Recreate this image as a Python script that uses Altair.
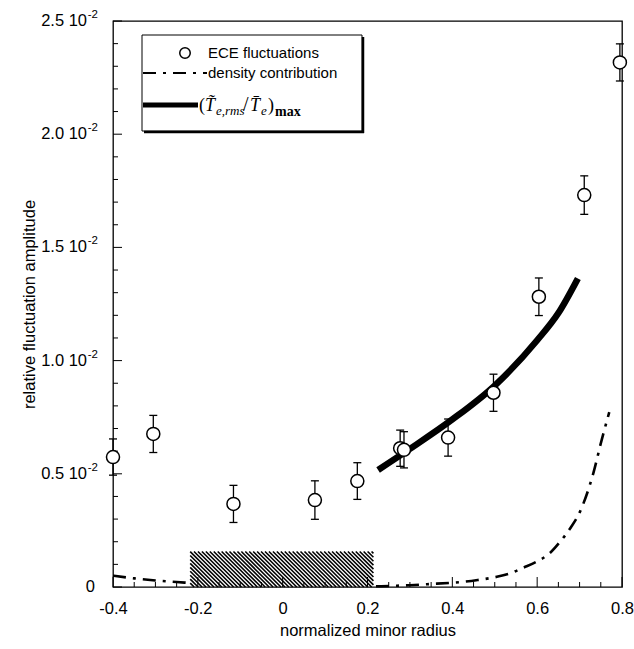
import altair as alt
import pandas as pd
import numpy as np

# ---------------- data ----------------
# ECE fluctuation measurements (relative amplitude) with error bars
ece_r = [-0.400, -0.305, -0.116, 0.076, 0.176, 0.277, 0.286, 0.390, 0.497, 0.604, 0.711, 0.795]
ece_amp = [0.00574, 0.00676, 0.00367, 0.00384, 0.00468, 0.00613, 0.00606, 0.00660, 0.00858, 0.01282, 0.01731, 0.02317]
ece_err = [0.00080, 0.00082, 0.00082, 0.00085, 0.00081, 0.00080, 0.00080, 0.00082, 0.00082, 0.00083, 0.00085, 0.00082]

# density contribution (dash-dot curve), two branches
dens_left_r = [-0.40, -0.35, -0.30, -0.25, -0.22]
dens_left_amp = [0.00050, 0.00038, 0.00029, 0.00022, 0.00018]
dens_right_r = [0.22, 0.26, 0.30, 0.347, 0.40, 0.426, 0.46, 0.505, 0.54, 0.567,
                0.599, 0.63, 0.654, 0.68, 0.701, 0.732, 0.752, 0.770]
dens_right_amp = [0.00003, 0.00005, 0.00008, 0.00013, 0.00019, 0.00023, 0.00031, 0.00045, 0.00063, 0.00085,
                  0.00112, 0.00150, 0.00200, 0.00265, 0.00333, 0.00500, 0.00649, 0.00772]

# (T_e,rms / T_e)_max curve
max_r = [0.225, 0.30, 0.40, 0.50, 0.60, 0.65, 0.696]
max_amp = [0.00517, 0.00610, 0.00740, 0.00890, 0.01090, 0.01210, 0.01363]

# hatched (excluded) region
hatch_r = [-0.218, 0.214]
hatch_top = 0.00157

x_ticks = [-0.4, -0.2, 0, 0.2, 0.4, 0.6, 0.8]
x_minor = [-0.35, -0.3, -0.25, -0.15, -0.1, -0.05, 0.05, 0.1, 0.15, 0.25, 0.3, 0.35,
           0.45, 0.5, 0.55, 0.65, 0.7, 0.75]
y_ticks = [0, 0.005, 0.01, 0.015, 0.02, 0.025]
y_minor = [0.001, 0.002, 0.003, 0.004, 0.006, 0.007, 0.008, 0.009, 0.011, 0.012, 0.013, 0.014,
           0.016, 0.017, 0.018, 0.019, 0.021, 0.022, 0.023, 0.024]
# y tick labels: mantissa and power of ten
y_label_mant = ["0.5 10", "1.0 10", "1.5 10", "2.0 10", "2.5 10"]
y_label_vals = [0.005, 0.01, 0.015, 0.02, 0.025]
y_label_exp = "-2"

legend_labels = ["ECE fluctuations", "density contribution"]

# ---------------- layout ----------------
W, H = 509, 566
SANS = "Liberation Sans"
NARROW = "Liberation Sans Narrow, Liberation Sans"
SERIF = "Liberation Serif, DejaVu Serif"

xs = alt.Scale(domain=[-0.4, 0.8], nice=False, zero=False)
ys = alt.Scale(domain=[0, 0.025], nice=False, zero=False)

x_axis = alt.Axis(values=x_ticks, labelExpr="datum.value == 0 ? '0' : '' + datum.value",
                  title="normalized minor radius", ticks=False, domain=False, grid=False,
                  labelFlush=False, labelOverlap=False,
                  labelFont=SANS, labelFontSize=16.5, labelColor="black", labelPadding=13,
                  titleFont=NARROW, titleFontSize=16.5, titleFontWeight="normal", titleColor="black",
                  titlePadding=6)
y_axis = alt.Axis(values=y_ticks, labels=False,
                  title="relative fluctuation amplitude", ticks=False, domain=False, grid=False,
                  titleFont=NARROW, titleFontSize=16.5, titleFontWeight="normal", titleColor="black",
                  titlePadding=76)


def X(f):
    return alt.X(f, scale=xs, axis=x_axis)


def Y(f):
    return alt.Y(f, scale=ys, axis=y_axis)


ece = pd.DataFrame({"r": ece_r, "amp": ece_amp, "err": ece_err})
ece["lo"] = ece["amp"] - ece["err"]
ece["hi"] = ece["amp"] + ece["err"]
caps = pd.DataFrame({"r": ece_r * 2, "amp": list(ece["lo"]) + list(ece["hi"])})

dens = pd.DataFrame({
    "r": dens_left_r + dens_right_r,
    "amp": dens_left_amp + dens_right_amp,
    "branch": ["L"] * len(dens_left_r) + ["R"] * len(dens_right_r),
})
mx = pd.DataFrame({"r": max_r, "amp": max_amp})

# hatch texture: diagonal stripes clipped to the hatched rectangle
x0, x1 = hatch_r
d, step = 0.084, 0.0093
segs = []
for s in np.arange(x0 - d, x1, step):
    tlo = max(0.0, (x0 - s) / d)
    thi = min(1.0, (x1 - s) / d)
    if tlo < thi:
        segs.append({"r": s + tlo * d, "amp": hatch_top * (1 - tlo),
                     "r2": s + thi * d, "amp2": hatch_top * (1 - thi)})
hatch = pd.DataFrame(segs)

hatch_layer = alt.Chart(hatch).mark_rule(color="black", strokeWidth=1.6).encode(
    x=X("r:Q"), y=Y("amp:Q"), x2="r2:Q", y2="amp2:Q")


# inward ticks
def tick_layer(vals, orient, length):
    if orient == "x":
        df = pd.DataFrame({"r": vals})
        return alt.Chart(df).mark_rule(color="black", strokeWidth=1).encode(
            x=X("r:Q"), y=alt.value(H), y2=alt.value(H - length))
    df = pd.DataFrame({"amp": vals})
    return alt.Chart(df).mark_rule(color="black", strokeWidth=1).encode(
        y=Y("amp:Q"), x=alt.value(0), x2=alt.value(length))


ticks = [tick_layer(x_ticks, "x", 10), tick_layer(x_minor, "x", 5),
         tick_layer(y_ticks, "y", 9), tick_layer(y_minor, "y", 5)]

# y tick labels with real superscripts
ylab = pd.DataFrame({"amp": y_label_vals, "mant": y_label_mant})
ylab_main = alt.Chart(ylab).mark_text(font=SANS, fontSize=16.5, align="right", baseline="middle",
                                      color="black").encode(
    y=Y("amp:Q"), x=alt.value(-26), text="mant:N")
ylab_exp = alt.Chart(ylab).mark_text(font=SANS, fontSize=11.5, align="right", baseline="middle",
                                     color="black", dy=-6).encode(
    y=Y("amp:Q"), x=alt.value(-15), text=alt.value(y_label_exp))
ylab_zero = alt.Chart(pd.DataFrame({"amp": [0.0]})).mark_text(
    font=SANS, fontSize=16.5, align="right", baseline="middle", color="black").encode(
    y=Y("amp:Q"), x=alt.value(-18), text=alt.value("0"))

dens_layer = alt.Chart(dens).mark_line(color="black", strokeWidth=2.6, strokeDash=[13, 7, 3, 7],
                                       interpolate="monotone").encode(
    x=X("r:Q"), y=Y("amp:Q"), detail="branch:N")

max_layer = alt.Chart(mx).mark_line(color="black", strokeWidth=6.5, interpolate="monotone",
                                    strokeCap="butt").encode(x=X("r:Q"), y=Y("amp:Q"))

err_layer = alt.Chart(ece).mark_rule(color="black", strokeWidth=1.3).encode(
    x=X("r:Q"), y=Y("lo:Q"), y2="hi:Q")
cap_layer = alt.Chart(caps).mark_tick(color="black", orient="horizontal", size=8, thickness=1.3,
                                      opacity=1).encode(x=X("r:Q"), y=Y("amp:Q"))
pt_layer = alt.Chart(ece).mark_point(shape="circle", filled=True, fill="white", stroke="black",
                                     strokeWidth=1.5, size=170, opacity=1).encode(
    x=X("r:Q"), y=Y("amp:Q"))

# ---------------- legend box ----------------
one = pd.DataFrame({"k": [0]})
LX0, LX1, LY0, LY1 = 29, 249, 14, 110
leg = []
leg.append(alt.Chart(one).mark_rect(fill="white", stroke="black", strokeWidth=1).encode(
    x=alt.value(LX0), x2=alt.value(LX1), y=alt.value(LY0), y2=alt.value(LY1)))
leg.append(alt.Chart(one).mark_rule(color="black", strokeWidth=2.5).encode(
    x=alt.value(LX1 + 1), x2=alt.value(LX1 + 1), y=alt.value(LY0 + 2), y2=alt.value(LY1 + 2)))
leg.append(alt.Chart(one).mark_rule(color="black", strokeWidth=2.5).encode(
    x=alt.value(LX0 + 2), x2=alt.value(LX1 + 2), y=alt.value(LY1 + 1), y2=alt.value(LY1 + 1)))
leg.append(alt.Chart(one).mark_point(shape="circle", filled=True, fill="white", stroke="black",
                                     strokeWidth=1.5, size=110, opacity=1).encode(
    x=alt.value(72), y=alt.value(32)))
leg.append(alt.Chart(one).mark_rule(color="black", strokeWidth=2.2, strokeDash=[13, 7, 3, 7]).encode(
    x=alt.value(30), x2=alt.value(94), y=alt.value(52), y2=alt.value(52)))
leg.append(alt.Chart(one).mark_rule(color="black", strokeWidth=5).encode(
    x=alt.value(30), x2=alt.value(85), y=alt.value(84), y2=alt.value(84)))
for lab, yy in zip(legend_labels, [32, 52]):
    leg.append(alt.Chart(one).mark_text(font=SANS, fontSize=15, align="left", baseline="middle",
                                        color="black").encode(
        x=alt.value(95), y=alt.value(yy), text=alt.value(lab)))

# math label (T~_{e,rms} / T-_e)_max built from pieces
pieces = [
    ("(", 86, 90, 18, "normal", "normal"),
    ("T\u0303", 92, 90, 18, "italic", "normal"),
    ("e,rms", 103, 94, 13, "italic", "normal"),
    ("/", 130, 90, 20, "normal", "normal"),
    ("T\u0304", 137, 90, 18, "italic", "normal"),
    ("e", 148, 94, 13, "italic", "normal"),
    (")", 155, 90, 18, "normal", "normal"),
    ("max", 162, 95, 14, "normal", "bold"),
]
for txt, px, py, fs, st, wt in pieces:
    leg.append(alt.Chart(one).mark_text(font=SERIF, fontSize=fs, fontStyle=st, fontWeight=wt,
                                        align="left", baseline="alphabetic", color="black").encode(
        x=alt.value(px), y=alt.value(py), text=alt.value(txt)))

chart = alt.layer(
    hatch_layer, *ticks, ylab_main, ylab_exp, ylab_zero,
    dens_layer, max_layer, err_layer, cap_layer, pt_layer, *leg
).properties(
    width=W, height=H,
    autosize=alt.AutoSizeParams(type="none"),
    padding={"left": 113, "top": 21, "right": 12, "bottom": 62},
    background="white",
).configure_view(stroke="black", strokeWidth=1.3)

chart.save("out.html", embed_options={"renderer": "svg", "actions": False})
